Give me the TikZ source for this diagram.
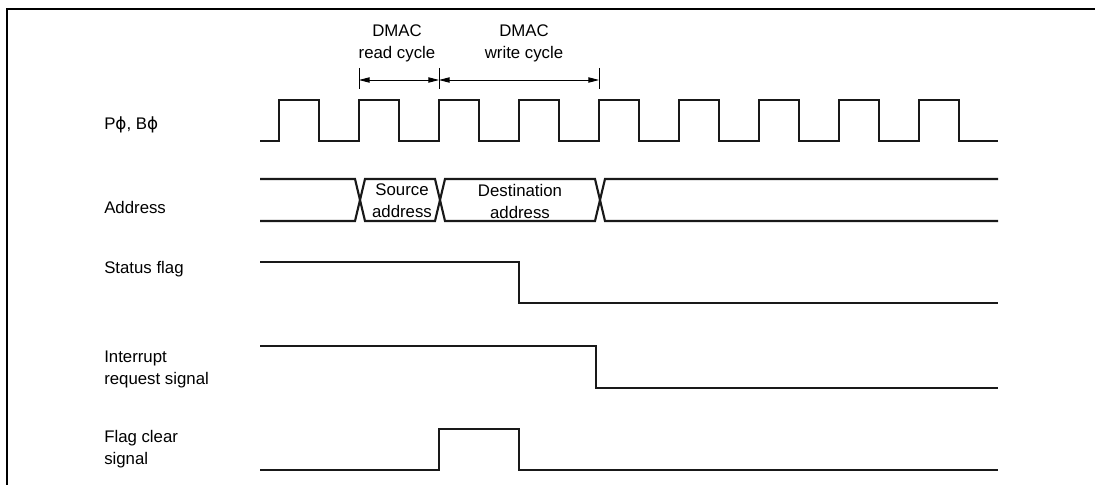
\documentclass[tikz,border=0pt]{standalone}
\usepackage{fontspec}
\setmainfont{Liberation Sans}
\newfontfamily\phifont{DejaVu Sans}
\newcommand{\myphi}{{\phifont\symbol{"03D5}}}
\usetikzlibrary{arrows.meta}
\begin{document}
\begin{tikzpicture}[x=0.75pt,y=-0.75pt,
  sig/.style={line width=1.6pt,line join=miter,black!90},
  frame/.style={line width=1.9pt},
  thin/.style={line width=0.7pt},
  dim/.style={line width=0.7pt,{Triangle[length=8pt,width=4pt]}-{Triangle[length=8pt,width=4pt]}},
  lbl/.style={anchor=west,align=left,inner sep=0pt,font=\fontsize{12.6}{16.5}\selectfont},
  ctr/.style={anchor=center,align=center,inner sep=0pt,font=\fontsize{12.6}{16.5}\selectfont}]
\useasboundingbox (0,0) rectangle (1095,485);
% frame
\draw[frame] (7,485) -- (7,9) -- (1095,9);
% labels
\node[lbl] (lclk) at (104,125) {P\myphi, B\myphi};
\node[lbl] (laddr) at (104,207) {Address};
\node[lbl] (lstat) at (104,269) {Status flag};
\node[lbl] (lirq) at (104,369) {Interrupt\\request signal};
\node[lbl] (lfc) at (104,449) {Flag clear\\signal};
% cycle labels
\node[ctr] (rd) at (397,43) {DMAC\\read cycle};
\node[ctr] (wr) at (524,43) {DMAC\\write cycle};
% ticks and dimension arrows
\coordinate (t1) at (359,80);
\coordinate (t2) at (439,80);
\coordinate (t3) at (599,80);
\foreach \x in {359,439,599} \draw[thin] (\x,68) -- (\x,89);
\draw[dim] (t1) -- (t2);
\draw[dim] (t2) -- (t3);
% clock
\draw[sig] (260,141)
  \foreach \k in {0,...,8} { -- ({279+80*\k},141) -- ({279+80*\k},100) -- ({319+80*\k},100) -- ({319+80*\k},141) }
  -- (998,141);
% address bus
\draw[sig] (260,179) -- (355,179) -- (365,221) -- (435,221) -- (445,179) -- (595,179) -- (605,221) -- (998,221);
\draw[sig] (260,221) -- (355,221) -- (365,179) -- (435,179) -- (445,221) -- (595,221) -- (605,179) -- (998,179);
\node[ctr] (src) at (402,201) {Source\\address};
\node[ctr] (dst) at (520,201) {Destination\\address};
% status flag
\draw[sig] (260,262) -- (519,262) -- (519,303) -- (998,303);
% interrupt request
\draw[sig] (260,346) -- (596,346) -- (596,388) -- (998,388);
% flag clear
\draw[sig] (260,470) -- (439,470) -- (439,429) -- (519,429) -- (519,470) -- (998,470);
\end{tikzpicture}
\end{document}
